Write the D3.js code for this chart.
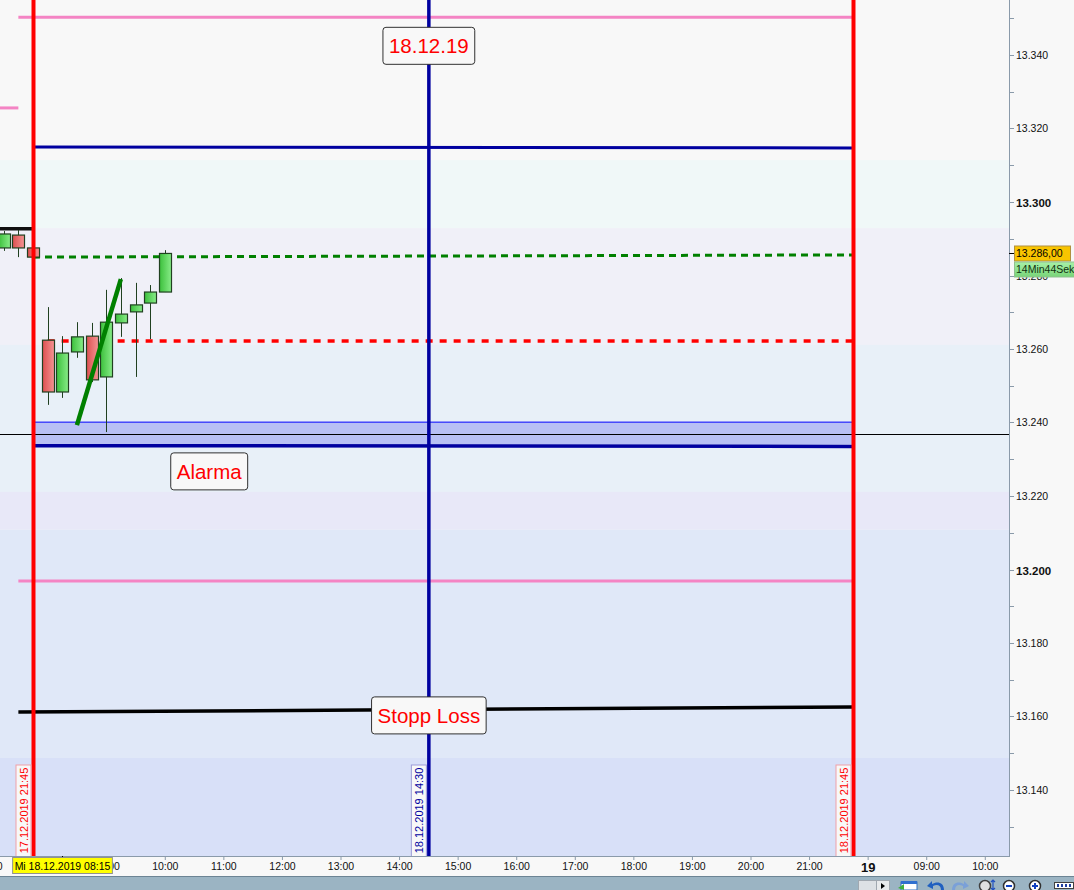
<!DOCTYPE html>
<html><head><meta charset="utf-8">
<script src="https://cdn.jsdelivr.net/npm/d3@7"></script>
<style>
body{margin:0;background:#f8f8f8;overflow:hidden}
svg{display:block;font-family:"Liberation Sans",Arial,sans-serif}
</style>
</head><body>
<svg id="c" width="1074" height="890"></svg>
<script>
// ---------------- DATA ----------------
const sessions = [["17.12.2019","21:00","21:45"],["18.12.2019","08:00","21:45"],["19.12.2019","08:00","10:45"]];
const candleTimes = ["17.12.2019 21:15","17.12.2019 21:30","17.12.2019 21:45","18.12.2019 08:00","18.12.2019 08:15","18.12.2019 08:30","18.12.2019 08:45","18.12.2019 09:00","18.12.2019 09:15","18.12.2019 09:30","18.12.2019 09:45","18.12.2019 10:00"];
const opens  = [13.2875,13.2910,13.2875,13.2624,13.2483,13.2592,13.2635,13.2524,13.2671,13.2701,13.2725,13.2755];
const highs  = [13.2921,13.2924,13.2880,13.2714,13.2635,13.2673,13.2671,13.2761,13.2793,13.2780,13.2774,13.2869];
const lows   = [13.2867,13.2850,13.2848,13.2448,13.2467,13.2576,13.2510,13.2374,13.2633,13.2524,13.2627,13.2755];
const closes = [13.2913,13.2875,13.2850,13.2483,13.2589,13.2633,13.2516,13.2673,13.2695,13.2720,13.2755,13.2860];

const priceMajorTicks = [13.140,13.160,13.180,13.200,13.220,13.240,13.260,13.280,13.300,13.320,13.340];
const priceMinorTicks = [13.130,13.150,13.170,13.190,13.210,13.230,13.250,13.270,13.290,13.310,13.330,13.350];
const priceTickLabels = ["13.140","13.160","13.180","13.200","13.220","13.240","13.260","13.280","13.300","13.320","13.340"];

const bandEdges = [13.3114,13.2929,13.2611,13.2211,13.2108,13.1487];

// horizontal drawings: name, start time, start price, end time, end price
const lineNames  = ["pinkTop","pinkShort","navyTop","blackPrev","greenDash","redDash","navyLow","pinkLow","stopLoss"];
const lineStartT = ["17.12.2019 21:30","17.12.2019 21:00","17.12.2019 21:45","17.12.2019 21:00","17.12.2019 21:45","18.12.2019 08:00","17.12.2019 21:45","17.12.2019 21:30","17.12.2019 21:30"];
const lineStartP = [13.3503,13.3256,13.3150,13.2927,13.2850,13.2622,13.2337,13.1969,13.1612];
const lineEndT   = ["18.12.2019 21:45","17.12.2019 21:30","18.12.2019 21:45","17.12.2019 21:45","18.12.2019 21:45","18.12.2019 21:45","18.12.2019 21:45","18.12.2019 21:45","18.12.2019 21:45"];
const lineEndP   = [13.3503,13.3256,13.3147,13.2927,13.2856,13.2622,13.2335,13.1969,13.1626];

const alarmZone = [13.2401,13.2340];
const crosshairPrice = 13.2369;
const crosshairTime = "18.12.2019 08:15";
const crosshairLabel = "Mi 18.12.2019 08:15";

const verticalTimes  = ["17.12.2019 21:45","18.12.2019 14:30","18.12.2019 21:45"];
const verticalLabels = ["17.12.2019 21:45","18.12.2019 14:30","18.12.2019 21:45"];

const trendTimes  = ["18.12.2019 08:30","18.12.2019 09:15"];
const trendPrices = [13.2393,13.2790];

const noteTexts  = ["18.12.19","Alarma","Stopp Loss"];
const noteTimes  = ["18.12.2019 14:30","18.12.2019 10:45","18.12.2019 14:30"];
const notePrices = [13.3425,13.2267,13.1603];

const lastPrice = 13.286;
const lastPriceLabel = "13.286,00";
const countdownLabel = "14Min44Sek";

// ---------------- SCALES ----------------
const slots = [];
sessions.forEach(([day,s,e])=>{
  let [h,m] = s.split(":").map(Number);
  const [eh,em] = e.split(":").map(Number);
  while (h*60+m <= eh*60+em) {
    slots.push(day+" "+String(h).padStart(2,"0")+":"+String(m).padStart(2,"0"));
    m += 15; if (m>=60){m-=60;h++;}
  }
});
const i0 = slots.indexOf("17.12.2019 21:45"), i1 = slots.indexOf("18.12.2019 21:45");
const step = (853-33)/(i1-i0);
const x = d3.scalePoint().domain(slots).range([33 - i0*step, 33 + (slots.length-1-i0)*step]);
const y = d3.scaleLinear().domain([13.340-801/3675, 13.340+55/3675]).range([856,0]);

const plotR = 1009, plotB = 856;
const svg = d3.select("#c");
const defs = svg.append("defs");
defs.append("clipPath").attr("id","plot").append("rect").attr("x",0).attr("y",0).attr("width",plotR).attr("height",plotB);
const gG = defs.append("linearGradient").attr("id","gGreen");
gG.append("stop").attr("offset","0").attr("stop-color","#3cc03c");
gG.append("stop").attr("offset","1").attr("stop-color","#88ec88");
const gR = defs.append("linearGradient").attr("id","gRed");
gR.append("stop").attr("offset","0").attr("stop-color","#dc5050");
gR.append("stop").attr("offset","1").attr("stop-color","#f49494");
const gC = defs.append("linearGradient").attr("id","gCount").attr("x1",0).attr("x2",0).attr("y1",0).attr("y2",1);
gC.append("stop").attr("offset","0").attr("stop-color","#a8f0a8");
gC.append("stop").attr("offset","1").attr("stop-color","#78d478");

// background
svg.append("rect").attr("width",1074).attr("height",890).attr("fill","#f8f8f8");
const plot = svg.append("g").attr("clip-path","url(#plot)");
const bandColors = ["#f8f8f8","#f0f8f8","#f0f0f8","#e8f0f8","#e8e8f8","#e0e8f8","#d8e0f8"];
const edgesPx = [0, ...bandEdges.map(y), plotB];
for (let k=0;k<edgesPx.length-1;k++){
  plot.append("rect").attr("x",0).attr("y",edgesPx[k]).attr("width",plotR).attr("height",edgesPx[k+1]-edgesPx[k]).attr("fill",bandColors[k]);
}

// alarm zone
plot.append("rect").attr("x",x(verticalTimes[0])).attr("y",y(alarmZone[0]))
  .attr("width",x(verticalTimes[2])-x(verticalTimes[0])).attr("height",y(alarmZone[1])-y(alarmZone[0]))
  .attr("fill","#b8c0f4");
plot.append("line").attr("x1",x(verticalTimes[0])).attr("x2",x(verticalTimes[2]))
  .attr("y1",y(alarmZone[0])).attr("y2",y(alarmZone[0])).attr("stroke","#0000ff").attr("stroke-width",1);

// crosshair horizontal
plot.append("line").attr("x1",0).attr("x2",plotR).attr("y1",Math.round(y(crosshairPrice))+0.5).attr("y2",Math.round(y(crosshairPrice))+0.5)
  .attr("stroke","#000").attr("stroke-width",1);

// horizontal drawings
const lineStyle = {
  pinkTop:{c:"#f484c4",w:3}, pinkShort:{c:"#f484c4",w:3}, navyTop:{c:"#0000a0",w:3},
  blackPrev:{c:"#101010",w:3.5}, greenDash:{c:"#008000",w:3,d:"7,5"}, redDash:{c:"#ff0000",w:3.5,d:"7,7"},
  navyLow:{c:"#0000a0",w:3.5}, pinkLow:{c:"#f484c4",w:3}, stopLoss:{c:"#000000",w:3.5}
};
lineNames.forEach((n,k)=>{
  const s = lineStyle[n];
  let x1 = x(lineStartT[k]);
  if (n==="pinkShort" || n==="blackPrev") x1 = 0;
  plot.append("line").attr("x1",x1).attr("x2",x(lineEndT[k]))
    .attr("y1",y(lineStartP[k])).attr("y2",y(lineEndP[k]))
    .attr("stroke",s.c).attr("stroke-width",s.w).attr("stroke-dasharray",s.d||null);
});

// candles
const cw = 12;
candleTimes.forEach((t,k)=>{
  const cx = Math.round(x(t));
  const up = closes[k] >= opens[k];
  plot.append("line").attr("x1",cx+0.5).attr("x2",cx+0.5).attr("y1",y(highs[k])).attr("y2",y(lows[k]))
    .attr("stroke","#204020").attr("stroke-width",1);
  const top = y(Math.max(opens[k],closes[k])), bot = y(Math.min(opens[k],closes[k]));
  plot.append("rect").attr("x",cx-cw/2+0.5).attr("y",top).attr("width",cw).attr("height",Math.max(1,bot-top))
    .attr("fill",up?"url(#gGreen)":"url(#gRed)").attr("stroke","#204020").attr("stroke-width",1.2);
});

// vertical lines
const vColors = ["#ff0000","#0000a0","#ff0000"];
const vWidths = [4,3.5,4];
const vBorders = ["#f0a0a8","#9c9cd8","#f0a0a8"];
verticalTimes.forEach((t,k)=>{
  plot.append("line").attr("x1",x(t)+0.5).attr("x2",x(t)+0.5).attr("y1",0).attr("y2",plotB)
    .attr("stroke",vColors[k]).attr("stroke-width",vWidths[k]);
});

// trend line
plot.append("line").attr("x1",x(trendTimes[0])).attr("y1",y(trendPrices[0]))
  .attr("x2",x(trendTimes[1])).attr("y2",y(trendPrices[1]))
  .attr("stroke","#008000").attr("stroke-width",4.5);

// vertical labels
verticalTimes.forEach((t,k)=>{
  const lx = x(t)+0.5;
  const bx = lx-17.5, by = 765;
  plot.append("rect").attr("x",bx).attr("y",by).attr("width",15).attr("height",plotB-by+2)
    .attr("fill","#f8f8f8").attr("stroke",vBorders[k]).attr("stroke-width",1);
  plot.append("text").attr("transform",`translate(${bx+11.5},${(by+plotB)/2}) rotate(-90)`)
    .attr("text-anchor","middle").attr("font-size",11).attr("fill",vColors[k]).text(verticalLabels[k]);
});

// note boxes
noteTexts.forEach((txt,k)=>{
  const cx = x(noteTimes[k])+0.5, cy = y(notePrices[k]);
  const g = svg.append("g");
  const rect = g.append("rect");
  const te = g.append("text").attr("x",cx).attr("y",cy).attr("dy","0.36em").attr("text-anchor","middle")
    .attr("font-size",20.5).attr("fill","#ff0000").text(txt);
  const w = te.node().getComputedTextLength()+12;
  rect.attr("x",cx-w/2).attr("y",cy-18.5).attr("width",w).attr("height",37)
    .attr("rx",3).attr("fill","#f8f8f8").attr("stroke","#303030").attr("stroke-width",1);
});

// ---------------- RIGHT AXIS ----------------
svg.append("line").attr("x1",plotR+0.5).attr("x2",plotR+0.5).attr("y1",0).attr("y2",plotB).attr("stroke","#8a9aaa");
priceMinorTicks.forEach(v=>{
  const yy = Math.round(y(v))+0.5;
  svg.append("line").attr("x1",plotR).attr("x2",plotR+5).attr("y1",yy).attr("y2",yy).attr("stroke","#8a9aaa");
});
priceMajorTicks.forEach((v,k)=>{
  const yy = Math.round(y(v))+0.5;
  svg.append("line").attr("x1",plotR).attr("x2",plotR+5).attr("y1",yy).attr("y2",yy).attr("stroke","#8a9aaa");
  const bold = Math.abs(v*10 - Math.round(v*10))<1e-6;
  svg.append("text").attr("x",1016).attr("y",yy).attr("dy","0.36em").attr("font-size",bold?11.5:10.5)
    .attr("font-weight",bold?"bold":"normal").attr("fill","#101010").text(priceTickLabels[k]);
});
// last price labels
const ly = Math.round(y(lastPrice))+0.5;
svg.append("line").attr("x1",plotR).attr("x2",plotR+5).attr("y1",ly).attr("y2",ly).attr("stroke","#000");
svg.append("rect").attr("x",1014.5).attr("y",ly-7.5).attr("width",56).attr("height",15)
  .attr("fill","#f8c400").attr("stroke","#b09040");
svg.append("text").attr("x",1016).attr("y",ly).attr("dy","0.36em").attr("font-size",10.5).attr("fill","#000").text(lastPriceLabel);
svg.append("rect").attr("x",1014.5).attr("y",ly+8.5).attr("width",62).attr("height",15)
  .attr("fill","url(#gCount)").attr("stroke","#90c090");
svg.append("text").attr("x",1016).attr("y",ly+16).attr("dy","0.36em").attr("font-size",10.5).attr("fill","#103010").text(countdownLabel);

// ---------------- BOTTOM AXIS ----------------
svg.append("rect").attr("x",0).attr("y",plotB).attr("width",1074).attr("height",20).attr("fill","#f8f8f8");
svg.append("line").attr("x1",0).attr("x2",plotR+1).attr("y1",plotB+0.5).attr("y2",plotB+0.5).attr("stroke","#8a9aaa");
const hourSlots = slots.filter(s=>s.endsWith(":00"));
const dayStarts = sessions.map(s=>s[0]+" "+s[1]);
const isDay = s => dayStarts.includes(s) && s!==dayStarts[0];
const xAxis = d3.axisBottom(x).tickValues(hourSlots).tickSize(4).tickPadding(3)
  .tickFormat(s=> isDay(s) ? String(+s.slice(0,2)) : s.slice(11));
const ax = svg.append("g").attr("transform",`translate(0,${plotB})`).call(xAxis);
ax.select(".domain").remove();
ax.selectAll(".tick line").attr("stroke","#8a9aaa");
ax.selectAll(".tick text").attr("font-family","Liberation Sans, Arial, sans-serif").attr("fill","#101010")
  .attr("font-weight",d=> isDay(d) ? "bold":"normal")
  .attr("font-size",d=> isDay(d) ? 13 : 10.5);
// crosshair time label
const cxx = Math.round(x(crosshairTime))+0.5;
svg.append("line").attr("x1",cxx).attr("x2",cxx).attr("y1",plotB).attr("y2",plotB+6).attr("stroke","#000");
const cbox = svg.append("rect");
const ct = svg.append("text").attr("x",cxx).attr("y",plotB+10).attr("dy","0.36em").attr("text-anchor","middle")
  .attr("font-size",10.5).attr("fill","#000").text(crosshairLabel);
const ctw = ct.node().getComputedTextLength()+4;
cbox.attr("x",cxx-ctw/2).attr("y",plotB+1.5).attr("width",ctw).attr("height",16)
  .attr("fill","#ffff00").attr("stroke","#909090");

// ---------------- TOOLBAR ----------------
svg.append("rect").attr("x",0).attr("y",876).attr("width",1074).attr("height",14).attr("fill","#9bb4c3");
svg.append("line").attr("x1",0).attr("x2",1074).attr("y1",876.5).attr("y2",876.5).attr("stroke","#6c8494");
svg.append("rect").attr("x",858.5).attr("y",880.5).attr("width",18).attr("height",10).attr("fill","#dde1e5").attr("stroke","#a0a8b0");
svg.append("rect").attr("x",876.5).attr("y",880.5).attr("width",13).attr("height",10).attr("fill","#e8eaec").attr("stroke","#a0a8b0");
svg.append("path").attr("d","M881,883 L885,886 L881,889 Z").attr("fill","#000");
// calendar
svg.append("rect").attr("x",901).attr("y",882).attr("width",16).attr("height",8).attr("fill","#ffffff").attr("stroke","#3070c0");
svg.append("rect").attr("x",901).attr("y",881).attr("width",16).attr("height",3).attr("fill","#3070d0");
svg.append("path").attr("d","M898,888 L904,884 L904,890 Z").attr("fill","#40b040");
// undo / redo
svg.append("path").attr("d","M944,890 C944,882 937,881 932,884 L932,881 L927,886 L933,889 L933,886 C937,884 941,885 941,890 Z").attr("fill","#2060c0");
svg.append("path").attr("d","M952,890 C952,882 959,881 964,884 L964,881 L969,886 L963,889 L963,886 C959,884 955,885 955,890 Z").attr("fill","#7aa0d8");
// magnifier with arrow
svg.append("circle").attr("cx",985).attr("cy",886).attr("r",5.5).attr("fill","#e0e0e0").attr("stroke","#404040").attr("stroke-width",1.5);
svg.append("path").attr("d","M993,880 L993,890 M991,882 L993,880 L995,882 M991,888 L993,890 L995,888").attr("stroke","#2050c0").attr("stroke-width",1.2).attr("fill","none");
// minus / plus
svg.append("circle").attr("cx",1009).attr("cy",886).attr("r",5.5).attr("fill","#ffffff").attr("stroke","#303030").attr("stroke-width",1.5);
svg.append("rect").attr("x",1006).attr("y",885).attr("width",6).attr("height",2).attr("fill","#1040c0");
svg.append("circle").attr("cx",1035).attr("cy",886).attr("r",5.5).attr("fill","#ffffff").attr("stroke","#303030").attr("stroke-width",1.5);
svg.append("rect").attr("x",1032).attr("y",885).attr("width",6).attr("height",2).attr("fill","#1040c0");
svg.append("rect").attr("x",1034).attr("y",883).attr("width",2).attr("height",6).attr("fill","#1040c0");
// dots
svg.append("rect").attr("x",1054.5).attr("y",882.5).attr("width",19).attr("height",6).attr("fill","#ffffff").attr("stroke","#404040");
[1057,1061,1065,1069].forEach(d=>svg.append("rect").attr("x",d).attr("y",884).attr("width",2).attr("height",3).attr("fill","#2040a0"));
</script>
</body></html>
